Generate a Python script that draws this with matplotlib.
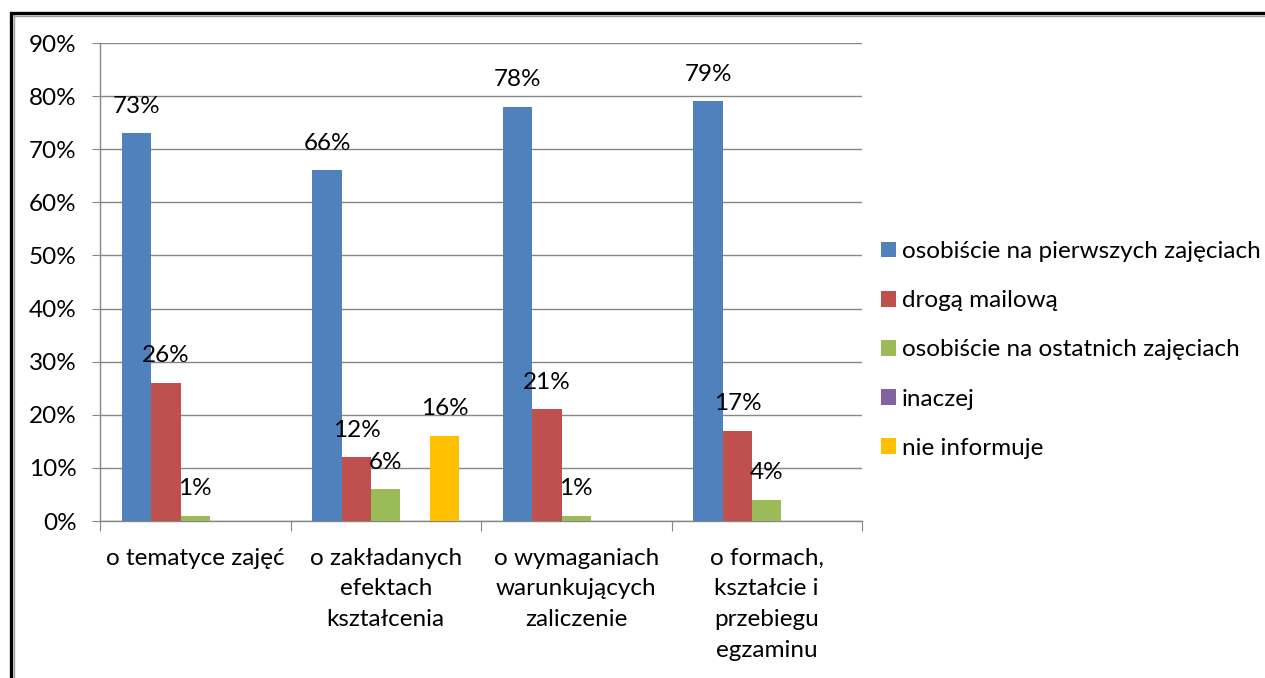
import matplotlib
matplotlib.use("Agg")
import matplotlib.pyplot as plt
import numpy as np
from matplotlib.patches import Rectangle
from matplotlib.lines import Line2D

plt.rcParams['font.family'] = ['Lato', 'DejaVu Sans']

categories = ["o tematyce zajęć", "o zakładanych\nefektach\nkształcenia",
              "o wymaganiach\nwarunkujących\nzaliczenie",
              "o formach,\nkształcie i\nprzebiegu\negzaminu"]
series_names = ["osobiście na pierwszych zajęciach", "drogą mailową",
                "osobiście na ostatnich zajęciach", "inaczej", "nie informuje"]
pierwsze = [73, 66, 78, 79]
mailowa = [26, 12, 21, 17]
ostatnie = [1, 6, 1, 4]
inaczej = [0, 0, 0, 0]
nie_informuje = [0, 16, 0, 0]
colors = ["#4F81BD", "#C0504D", "#9BBB59", "#8064A2", "#FFC000"]
yticks = [0, 10, 20, 30, 40, 50, 60, 70, 80, 90]

all_series = [pierwsze, mailowa, ostatnie, inaczej, nie_informuje]

FS = 17.5
W, H = 1265, 678
fig = plt.figure(figsize=(W / 100, H / 100), dpi=100)
ax = fig.add_axes([100 / W, 1 - 521 / H, (862 - 100) / W, (521 - 43) / H])

x = np.arange(len(categories))
bw = 1 / 6.5
for i, (vals, col, name) in enumerate(zip(all_series, colors, series_names)):
    pos = x + (i - 2) * bw
    ax.bar(pos, vals, width=bw, color=col, label=name, zorder=3)
    for p, v in zip(pos, vals):
        if v > 0:
            ax.annotate(f"{v}%", (p, v), xytext=(0, 19.5), textcoords="offset points",
                        ha="center", va="center", fontsize=FS, color="black", zorder=4)

ax.set_xlim(-0.5, len(categories) - 0.5)
ax.set_ylim(0, 90)
ax.set_yticks(yticks)
ax.set_yticklabels([f"{t}%" for t in yticks], fontsize=FS)
ax.yaxis.grid(True, color="#868686", linewidth=1.0, zorder=0)
ax.set_axisbelow(True)
for s in ["top", "right"]:
    ax.spines[s].set_visible(False)
for s in ["left", "bottom"]:
    ax.spines[s].set_color("#868686")
    ax.spines[s].set_linewidth(1.0)
ax.tick_params(axis="y", length=6, color="#868686", pad=11)
ax.set_xticks(np.arange(len(categories) + 1) - 0.5)
ax.set_xticklabels([])
ax.tick_params(axis="x", length=7, color="#868686")
for xi, c in zip(x, categories):
    ax.text(xi, -0.056, c, transform=ax.get_xaxis_transform(), ha="center", va="top",
            fontsize=FS, linespacing=1.57)

ax.legend(loc="center left", bbox_to_anchor=(871 / W, 1 - 350 / H),
          bbox_transform=fig.transFigure, frameon=False, fontsize=FS,
          handlelength=0.62, handleheight=0.62, handletextpad=0.25, labelspacing=1.16,
          borderaxespad=0)

# outer frame (cropped on right and bottom)
fig.patches.append(Rectangle((11 / W, -0.1), 2.0, 1 - 13 / H + 0.1, transform=fig.transFigure,
                             fill=False, edgecolor="black", linewidth=2.4, zorder=10))
fig.lines.append(Line2D([14 / W, 14 / W], [0, 1 - 15 / H], transform=fig.transFigure,
                        color="#a0a0a0", linewidth=1.0))
fig.lines.append(Line2D([14 / W, 1], [1 - 15.5 / H, 1 - 15.5 / H], transform=fig.transFigure,
                        color="#a0a0a0", linewidth=1.0))

fig.savefig("out.png", dpi=100, facecolor="white")
